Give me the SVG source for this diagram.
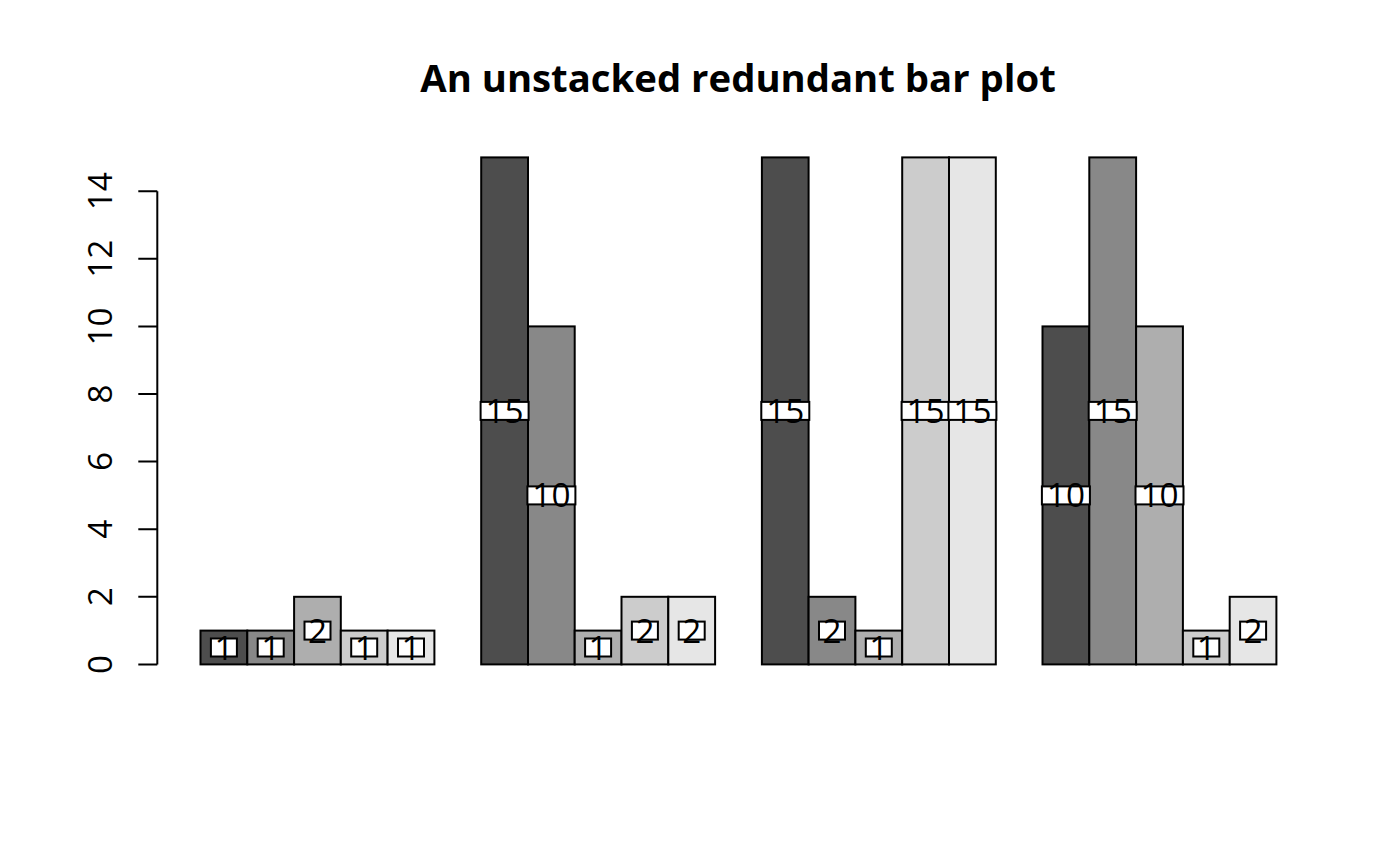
<svg xmlns="http://www.w3.org/2000/svg" width="1400" height="866" viewBox="0 0 1400 866">
<style>
.bar{stroke:#000;stroke-width:2}
.c1{fill:#4D4D4D}.c2{fill:#888888}.c3{fill:#AEAEAE}.c4{fill:#CCCCCC}.c5{fill:#E6E6E6}
.box{fill:#fff;stroke:#000;stroke-width:2}
.lab{font-family:"Open Sans","Noto Sans",sans-serif;font-size:33.3px;text-anchor:middle;fill:#000}
.tick{font-family:"Open Sans","Noto Sans",sans-serif;font-size:33.3px;text-anchor:middle;fill:#000}
.title{font-family:"Open Sans","Noto Sans",sans-serif;font-size:38.3px;font-weight:bold;text-anchor:middle;fill:#000}
.ax{stroke:#000;stroke-width:2;fill:none}
</style>
<rect width="1400" height="866" fill="#fff"/>
<text class="title" x="738" y="92">An unstacked redundant bar plot</text>
<g id="axis">
<path class="ax" d="M157.3,664.4V191.2M138.3,664.4H157.3M138.3,596.8H157.3M138.3,529.2H157.3M138.3,461.6H157.3M138.3,394H157.3M138.3,326.4H157.3M138.3,258.8H157.3M138.3,191.2H157.3"/>
<text class="tick" transform="translate(112,664.4) rotate(-90)">0</text>
<text class="tick" transform="translate(112,596.8) rotate(-90)">2</text>
<text class="tick" transform="translate(112,529.2) rotate(-90)">4</text>
<text class="tick" transform="translate(112,461.6) rotate(-90)">6</text>
<text class="tick" transform="translate(112,394) rotate(-90)">8</text>
<text class="tick" transform="translate(112,326.4) rotate(-90)">10</text>
<text class="tick" transform="translate(112,258.8) rotate(-90)">12</text>
<text class="tick" transform="translate(112,191.2) rotate(-90)">14</text>
</g>
<g id="group1">
<rect class="bar c1" x="200.5" y="630.6" width="46.8" height="33.8"/>
<rect class="bar c2" x="247.3" y="630.6" width="46.8" height="33.8"/>
<rect class="bar c3" x="294.1" y="596.8" width="46.7" height="67.6"/>
<rect class="bar c4" x="340.8" y="630.6" width="46.8" height="33.8"/>
<rect class="bar c5" x="387.6" y="630.6" width="46.8" height="33.8"/>
<rect class="box" x="210.9" y="638.5" width="26" height="18"/><text class="lab" x="223.9" y="659.5">1</text>
<rect class="box" x="257.7" y="638.5" width="26" height="18"/><text class="lab" x="270.7" y="659.5">1</text>
<rect class="box" x="304.5" y="621.6" width="26" height="18"/><text class="lab" x="317.5" y="642.6">2</text>
<rect class="box" x="351.2" y="638.5" width="26" height="18"/><text class="lab" x="364.2" y="659.5">1</text>
<rect class="box" x="398" y="638.5" width="26" height="18"/><text class="lab" x="411" y="659.5">1</text>
</g>
<g id="group2">
<rect class="bar c1" x="481.2" y="157.4" width="46.8" height="507"/>
<rect class="bar c2" x="528" y="326.4" width="46.7" height="338"/>
<rect class="bar c3" x="574.7" y="630.6" width="46.8" height="33.8"/>
<rect class="bar c4" x="621.5" y="596.8" width="46.8" height="67.6"/>
<rect class="bar c5" x="668.3" y="596.8" width="46.8" height="67.6"/>
<rect class="box" x="480.6" y="401.9" width="48" height="18"/><text class="lab" x="504.6" y="422.9">15</text>
<rect class="box" x="527.4" y="486.4" width="48" height="18"/><text class="lab" x="551.4" y="507.4">10</text>
<rect class="box" x="585.1" y="638.5" width="26" height="18"/><text class="lab" x="598.1" y="659.5">1</text>
<rect class="box" x="631.9" y="621.6" width="26" height="18"/><text class="lab" x="644.9" y="642.6">2</text>
<rect class="box" x="678.7" y="621.6" width="26" height="18"/><text class="lab" x="691.7" y="642.6">2</text>
</g>
<g id="group3">
<rect class="bar c1" x="761.9" y="157.4" width="46.7" height="507"/>
<rect class="bar c2" x="808.6" y="596.8" width="46.8" height="67.6"/>
<rect class="bar c3" x="855.4" y="630.6" width="46.8" height="33.8"/>
<rect class="bar c4" x="902.2" y="157.4" width="46.8" height="507"/>
<rect class="bar c5" x="949" y="157.4" width="46.8" height="507"/>
<rect class="box" x="761.3" y="401.9" width="48" height="18"/><text class="lab" x="785.3" y="422.9">15</text>
<rect class="box" x="819" y="621.6" width="26" height="18"/><text class="lab" x="832" y="642.6">2</text>
<rect class="box" x="865.8" y="638.5" width="26" height="18"/><text class="lab" x="878.8" y="659.5">1</text>
<rect class="box" x="901.6" y="401.9" width="48" height="18"/><text class="lab" x="925.6" y="422.9">15</text>
<rect class="box" x="948.4" y="401.9" width="48" height="18"/><text class="lab" x="972.4" y="422.9">15</text>
</g>
<g id="group4">
<rect class="bar c1" x="1042.5" y="326.4" width="46.8" height="338"/>
<rect class="bar c2" x="1089.3" y="157.4" width="46.8" height="507"/>
<rect class="bar c3" x="1136.1" y="326.4" width="46.8" height="338"/>
<rect class="bar c4" x="1182.9" y="630.6" width="46.8" height="33.8"/>
<rect class="bar c5" x="1229.7" y="596.8" width="46.7" height="67.6"/>
<rect class="box" x="1041.9" y="486.4" width="48" height="18"/><text class="lab" x="1065.9" y="507.4">10</text>
<rect class="box" x="1088.7" y="401.9" width="48" height="18"/><text class="lab" x="1112.7" y="422.9">15</text>
<rect class="box" x="1135.5" y="486.4" width="48" height="18"/><text class="lab" x="1159.5" y="507.4">10</text>
<rect class="box" x="1193.3" y="638.5" width="26" height="18"/><text class="lab" x="1206.3" y="659.5">1</text>
<rect class="box" x="1240.1" y="621.6" width="26" height="18"/><text class="lab" x="1253.1" y="642.6">2</text>
</g>
</svg>
